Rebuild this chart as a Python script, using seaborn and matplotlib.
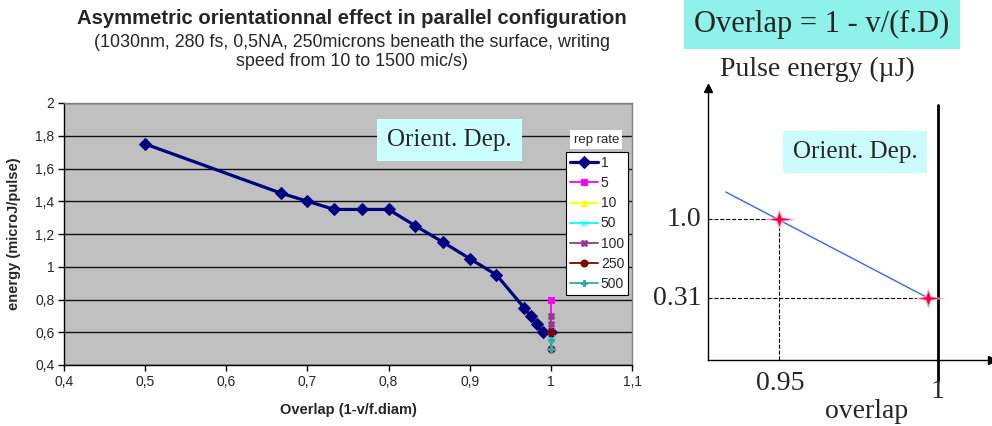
import matplotlib
matplotlib.use("Agg")
import matplotlib.pyplot as plt
import seaborn as sns
import pandas as pd
import numpy as np

# ---------------- data ----------------
overlap_1 = [0.5, 0.667, 0.7, 0.733, 0.767, 0.8, 0.833, 0.867, 0.9, 0.933, 0.967, 0.975, 0.983, 0.99, 1.0]
energy_1 = [1.75, 1.45, 1.40, 1.35, 1.35, 1.35, 1.25, 1.15, 1.05, 0.95, 0.75, 0.70, 0.65, 0.60, 0.60]

overlap_5 = [1.0, 1.0]
energy_5 = [0.80, 0.60]
overlap_10 = [1.0, 1.0]
energy_10 = [0.65, 0.60]
overlap_50 = [1.0, 1.0]
energy_50 = [0.60, 0.55]
overlap_100 = [1.0, 1.0, 1.0]
energy_100 = [0.70, 0.65, 0.60]
overlap_250 = [1.0, 1.0]
energy_250 = [0.60, 0.50]
overlap_500 = [1.0, 1.0]
energy_500 = [0.55, 0.50]

rep_rates = ["1", "5", "10", "50", "100", "250", "500"]
x_ticks = [0.4, 0.5, 0.6, 0.7, 0.8, 0.9, 1.0, 1.1]
x_tick_labels = ["0,4", "0,5", "0,6", "0,7", "0,8", "0,9", "1", "1,1"]
y_ticks = [0.4, 0.6, 0.8, 1.0, 1.2, 1.4, 1.6, 1.8, 2.0]
y_tick_labels = ["0,4", "0,6", "0,8", "1", "1,2", "1,4", "1,6", "1,8", "2"]

# schematic (right panel)
sch_overlap = [0.95, 0.997]
sch_energy = [1.0, 0.31]
sch_line_overlap = [0.9333, 0.997]
sch_line_energy = [1.236, 0.31]

# ---------------- style ----------------
sns.set_theme(style="white")
plt.rcParams["font.family"] = ["Liberation Sans", "DejaVu Sans"]
serif = ["Liberation Serif", "DejaVu Serif"]

fig = plt.figure(figsize=(9.92, 4.26), dpi=100)
fig.patch.set_facecolor("white")

ax = fig.add_axes([64/992, (426-365)/426, (632-64)/992, (365-103)/426])
ax.set_facecolor("#c0c0c0")

series = [
    (overlap_1, energy_1, "#000080", "D", 6.5, 2.3),
    (overlap_5, energy_5, "#ff00ff", "s", 5, 1.3),
    (overlap_10, energy_10, "#ffff00", "^", 5, 1.3),
    (overlap_50, energy_50, "#00ffff", "x", 5, 1.3),
    (overlap_100, energy_100, "#993399", "X", 5, 1.3),
    (overlap_250, energy_250, "#800000", "o", 5, 1.3),
    (overlap_500, energy_500, "#33aaaa", "P", 5, 1.3),
]
for (xs, ys, c, m, ms, lw), lab in zip(series, rep_rates):
    df = pd.DataFrame({"overlap": xs, "energy": ys})
    sns.lineplot(data=df, x="overlap", y="energy", ax=ax, color=c, marker=m,
                 markersize=ms, linewidth=lw, sort=False, estimator=None,
                 markeredgecolor=c, label=lab)

ax.set_xlim(0.4, 1.1)
ax.set_ylim(0.4, 2.0)
ax.set_xticks(x_ticks)
ax.set_xticklabels(x_tick_labels, fontsize=10)
ax.set_yticks(y_ticks)
ax.set_yticklabels(y_tick_labels, fontsize=10)
ax.yaxis.grid(True, color="#111111", linewidth=1)
ax.xaxis.grid(False)
ax.tick_params(axis="both", length=4, width=1, color="black", direction="out",
               bottom=True, left=True, pad=3)
for s in ["left", "bottom"]:
    ax.spines[s].set_color("black")
    ax.spines[s].set_linewidth(1)
for s in ["top", "right"]:
    ax.spines[s].set_color("#808080")
    ax.spines[s].set_linewidth(1)
ax.set_xlabel("Overlap (1-v/f.diam)", fontsize=10.5, fontweight="bold", labelpad=10)
ax.set_ylabel("energy (microJ/pulse)", fontsize=10.5, fontweight="bold", labelpad=10)

leg = ax.legend(loc="upper left", bbox_to_anchor=(0.884, 0.813), frameon=True,
                fontsize=10, handlelength=2.0, handletextpad=0.2, borderpad=0.3,
                labelspacing=0.44, fancybox=False, borderaxespad=0, framealpha=1)
leg.get_frame().set_edgecolor("black")
leg.get_frame().set_linewidth(0.8)
leg.get_frame().set_facecolor("white")
ax.text(1.056, 1.777, "rep rate", fontsize=9.5, ha="center", va="center",
        bbox=dict(boxstyle="square,pad=0.25", fc="white", ec="none"))

ax.text(0.875, 1.774, "Orient. Dep.", fontsize=18, family=serif,
        ha="center", va="center",
        bbox=dict(boxstyle="square,pad=0.4", fc="#ccffff", ec="none"))

fig.text(352/992, 1 - 19/426, "Asymmetric orientationnal effect in parallel configuration",
         ha="center", va="center", fontsize=14.6, fontweight="bold")
fig.text(352/992, 1 - 52/426,
         "(1030nm, 280 fs, 0,5NA, 250microns beneath the surface, writing\nspeed from 10 to 1500 mic/s)",
         ha="center", va="center", fontsize=12.9, linespacing=1.12)

# ---------------- right schematic ----------------
x0, x1 = 0.9277, 1.017
y0, y1 = -0.23, 2.144
ax2 = fig.add_axes([708/992, (426-360)/426, (992-708)/992, (360-88)/426])
ax2.set_xlim(x0, x1)
ax2.set_ylim(y0, y1)
ax2.set_facecolor("none")
for s in ["top", "right"]:
    ax2.spines[s].set_visible(False)
for s in ["left", "bottom"]:
    ax2.spines[s].set_color("black")
    ax2.spines[s].set_linewidth(1)
ax2.set_xticks([])
ax2.set_yticks([])
ax2.plot([x0], [y1], marker="^", color="black", markersize=6, clip_on=False)
ax2.plot([x1], [y0], marker=">", color="black", markersize=6, clip_on=False)

# vertical boundary at overlap = 1
ax2.plot([1.0, 1.0], [-0.41, 1.995], color="black", lw=2, clip_on=False)
# dashed guides
ax2.plot([x0, sch_overlap[0]], [sch_energy[0], sch_energy[0]], ls="--", color="black", lw=0.8)
ax2.plot([sch_overlap[0], sch_overlap[0]], [y0, sch_energy[0]], ls="--", color="black", lw=0.8)
ax2.plot([x0, sch_overlap[1]], [sch_energy[1], sch_energy[1]], ls="--", color="black", lw=0.8)
# blue trend line
sns.lineplot(x=sch_line_overlap, y=sch_line_energy, ax=ax2, color="#3366ff", linewidth=1,
             sort=False, estimator=None)
# red 4-point stars, elongated horizontally
star = [(1.0, 0), (0.18, 0.12), (0, 0.6), (-0.18, 0.12), (-0.8, 0), (-0.18, -0.12),
        (0, -0.6), (0.18, -0.12), (1.0, 0)]
ax2.plot(sch_overlap, sch_energy, ls="none", marker=star, markersize=24,
         color="#ffa0b4", markeredgewidth=0)
ax2.plot(sch_overlap, sch_energy, ls="none", marker=star, markersize=16,
         color="#f0003a", markeredgewidth=0)

ax2.text(x0 - 0.0022, sch_energy[0], "1.0", ha="right", va="center", fontsize=20, family=serif)
ax2.text(x0 - 0.0022, sch_energy[1], "0.31", ha="right", va="center", fontsize=20, family=serif)

fig.text(780/992, 1 - 384/426, "0.95", ha="center", va="center", fontsize=20, family=serif)
fig.text(938/992, 1 - 391/426, "1", ha="center", va="center", fontsize=20, family=serif)
fig.text(867/992, 1 - 411/426, "overlap", ha="center", va="center", fontsize=20, family=serif)
fig.text(817/992, 1 - 69/426, "Pulse energy (\u00b5J)", ha="center", va="center", fontsize=20, family=serif)
fig.text(822/992, 1 - 24/426, "Overlap = 1 - v/(f.D)", ha="center", va="center", fontsize=22,
         family=serif, bbox=dict(boxstyle="square,pad=0.35", fc="#8ef2ea", ec="none"))
fig.text(855/992, 1 - 152/426, "Orient. Dep.", ha="center", va="center", fontsize=18,
         family=serif, bbox=dict(boxstyle="square,pad=0.4", fc="#ccfbfb", ec="none"))

fig.savefig("out.png", dpi=100, facecolor="white")
